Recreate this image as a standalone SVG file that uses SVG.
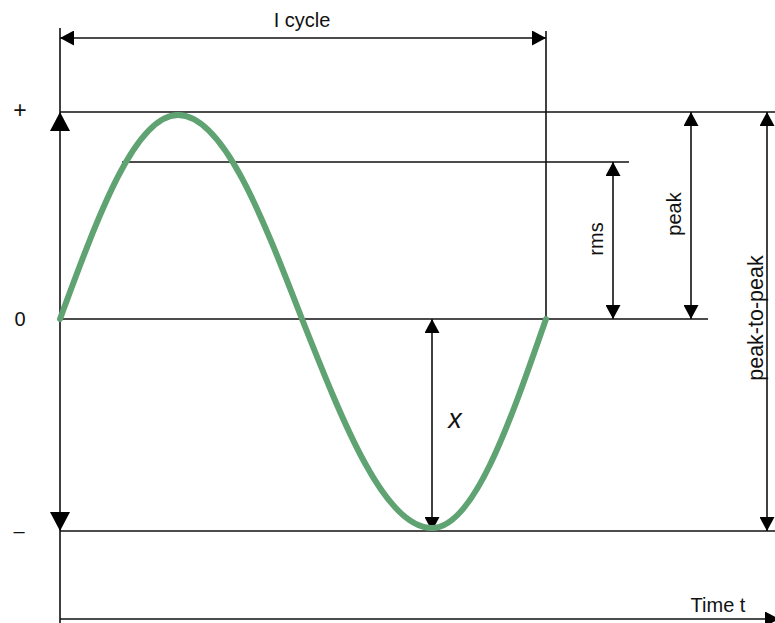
<svg xmlns="http://www.w3.org/2000/svg" width="775" height="623" viewBox="0 0 775 623">
<style>
.ln{stroke:#111;stroke-width:1.6;fill:none}
.ar{fill:#000}
.t{font-family:"Liberation Sans",Arial,sans-serif;font-size:20px;fill:#111}
.big{font-size:21.5px}
.pl{font-size:23px}
.it{font-style:italic;font-size:27px}
.wave{fill:none;stroke:#5fa372;stroke-width:6;stroke-linecap:round}
</style>
<defs>
<marker id="ah" markerUnits="userSpaceOnUse" markerWidth="14" markerHeight="15" viewBox="0 0 14 15" refX="14" refY="7.5" orient="auto-start-reverse">
<path d="M0,0 L14,7.5 L0,15 Z" fill="#000"/>
</marker>
</defs>
<g id="connectors">
<line class="ln" x1="60" y1="28" x2="60" y2="623"/>
<line class="ln" x1="546" y1="31" x2="546" y2="319"/>
<line class="ln" x1="60" y1="112" x2="775" y2="112"/>
<line class="ln" x1="122" y1="162" x2="629" y2="162"/>
<line class="ln" x1="60" y1="319" x2="708" y2="319"/>
<line class="ln" x1="60" y1="531" x2="775" y2="531"/>
<line class="ln" x1="60" y1="38" x2="546" y2="38" marker-start="url(#ah)" marker-end="url(#ah)"/>
<line class="ln" x1="60" y1="619" x2="779" y2="619" marker-end="url(#ah)"/>
<line class="ln" x1="613" y1="162" x2="613" y2="319" marker-start="url(#ah)" marker-end="url(#ah)"/>
<line class="ln" x1="691" y1="112" x2="691" y2="319" marker-start="url(#ah)" marker-end="url(#ah)"/>
<line class="ln" x1="767" y1="112" x2="767" y2="531" marker-start="url(#ah)" marker-end="url(#ah)"/>
<line class="ln" x1="432" y1="319" x2="432" y2="531" marker-start="url(#ah)" marker-end="url(#ah)"/>
<polygon class="ar" points="60,112 70,131 50,131"/>
<polygon class="ar" points="60,531 70,512 50,512"/>
</g>
<g id="wave">
<path class="wave" d="M60,319 C98.4,214.8 135.1,115 178,115 C223.1,115 261.7,214.8 302,319 C344.3,425.8 384.8,528 432,528 C473.4,528 508.9,425.8 546,319"/>
</g>
<g id="labels">
<text class="t" x="302" y="27" text-anchor="middle">I cycle</text>
<text class="t pl" x="20" y="118" text-anchor="middle">+</text>
<text class="t" x="20" y="326" text-anchor="middle">0</text>
<text class="t" x="19" y="538" text-anchor="middle">–</text>
<text class="t" x="718" y="612" text-anchor="middle">Time t</text>
<text class="t" x="0" y="0" text-anchor="middle" transform="translate(603,239) rotate(-90)">rms</text>
<text class="t" x="0" y="0" text-anchor="middle" transform="translate(681,214) rotate(-90)">peak</text>
<text class="t big" x="0" y="0" text-anchor="middle" transform="translate(763,318) rotate(-90)">peak-to-peak</text>
<text class="t it" x="455" y="428" text-anchor="middle">x</text>
</g>
</svg>
